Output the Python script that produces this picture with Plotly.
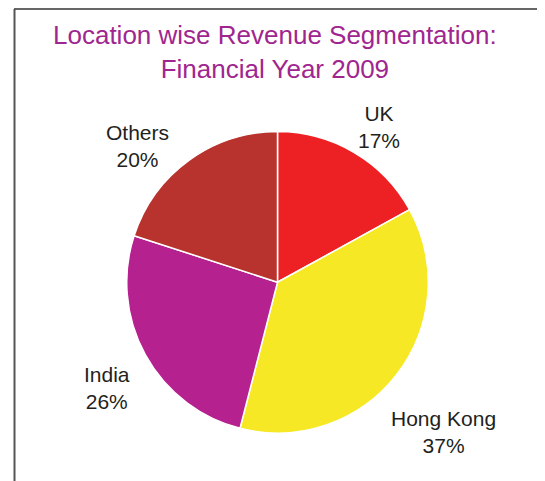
import plotly.graph_objects as go

labels = ["UK", "Hong Kong", "India", "Others"]
values = [17, 37, 26, 20]
colors = ["#ED2024", "#F6E824", "#B5218E", "#B8332E"]
title_lines = ["Location wise Revenue Segmentation:", "Financial Year 2009"]

W, H = 545, 481
OFF = 8  # page body margin offset

def px_x(x):
    return (x - OFF) / W

def px_y(y):
    return 1 - (y - OFF) / H

fig = go.Figure(go.Pie(
    labels=labels, values=values, sort=False, direction="clockwise", rotation=0,
    marker=dict(colors=colors, line=dict(color="white", width=1.5)),
    textinfo="none", hoverinfo="label+percent", showlegend=False,
    domain=dict(x=[px_x(126.5), px_x(428.5)], y=[px_y(433), px_y(131.5)]),
))

label_pos = {"UK": (379, 127), "Hong Kong": (443, 432), "India": (107, 388), "Others": (137, 146)}
total = sum(values)
for lab, v in zip(labels, values):
    px, py = label_pos[lab]
    fig.add_annotation(
        x=px_x(px), y=px_y(py), xref="paper", yref="paper",
        text=f"{lab}<br>{round(100 * v / total)}%", showarrow=False,
        xanchor="center", yanchor="middle",
        font=dict(family="Liberation Sans, Arial, sans-serif", size=21, color="#231F20"),
    )

fig.add_annotation(
    x=px_x(275), y=px_y(52), xref="paper", yref="paper",
    text="<br>".join(title_lines), showarrow=False, xanchor="center", yanchor="middle",
    font=dict(family="Liberation Sans, Arial, sans-serif", size=26, color="#A0268F"),
)

fig.add_shape(type="line", xref="paper", yref="paper", x0=px_x(14), x1=1, y0=px_y(9), y1=px_y(9),
              line=dict(color="#333333", width=1.5))
fig.add_shape(type="line", xref="paper", yref="paper", x0=px_x(14.5), x1=px_x(14.5), y0=px_y(9), y1=0,
              line=dict(color="#555555", width=2))

fig.update_layout(
    width=W, height=H, margin=dict(l=0, r=0, t=0, b=0),
    paper_bgcolor="white", plot_bgcolor="white",
)

fig.write_html("out.html")
